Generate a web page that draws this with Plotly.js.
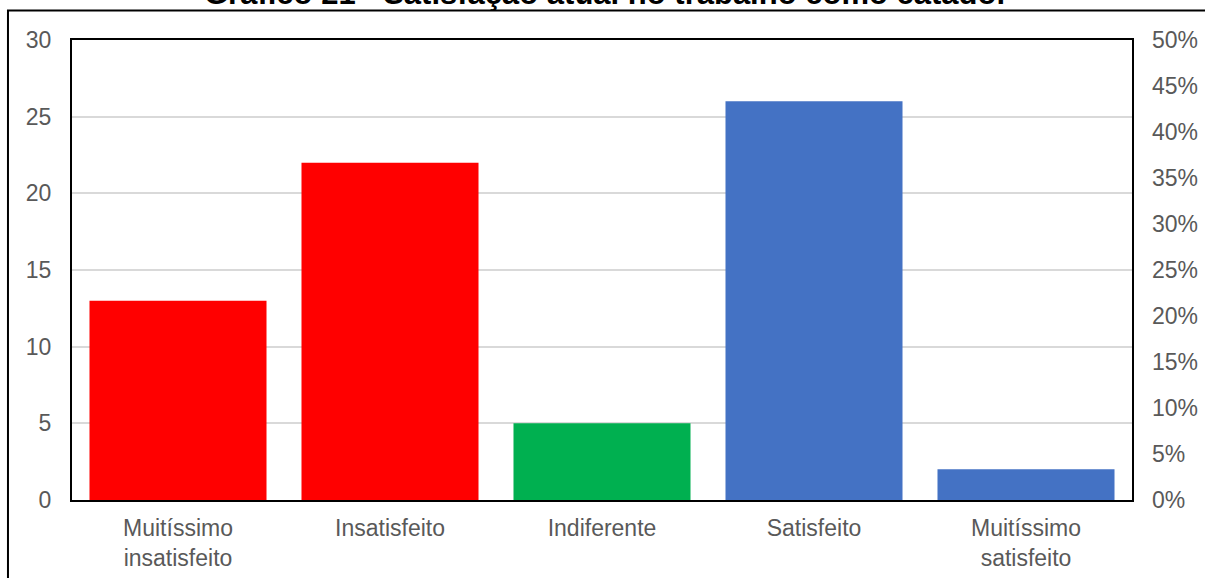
<!DOCTYPE html>
<html>
<head>
<meta charset="utf-8">
<script src="https://cdn.plot.ly/plotly-3.0.1.min.js"></script>
<style>html,body{margin:0;padding:0;background:#fff;}#chart{width:1205px;height:578px;}</style>
</head>
<body>
<div id="chart"></div>
<script>
const titleText = "Gráfico 21 - Satisfação atual no trabalho como catador";
const categories = ["Muitíssimo<br>insatisfeito", "Insatisfeito", "Indiferente", "Satisfeito", "Muitíssimo<br>satisfeito"];
const counts = [13, 22, 5, 26, 2];
const barColors = ["#FF0000", "#FF0000", "#00B050", "#4472C4", "#4472C4"];
const leftTicks = [0, 5, 10, 15, 20, 25, 30];
const rightTicks = [0, 0.05, 0.10, 0.15, 0.20, 0.25, 0.30, 0.35, 0.40, 0.45, 0.50];

const font = {family: "Liberation Sans, Arial, sans-serif", size: 23, color: "#595959"};

const data = [{
  type: "bar",
  x: categories,
  y: counts,
  marker: {color: barColors},
  hoverinfo: "x+y",
  showlegend: false
}, {
  type: "scatter",
  mode: "markers",
  x: [categories[0]],
  y: [null],
  yaxis: "y2",
  hoverinfo: "skip",
  showlegend: false,
  marker: {opacity: 0}
}];

const layout = {
  width: 1205, height: 578,
  margin: {l: 72, r: 73, t: 40, b: 78},
  paper_bgcolor: "#ffffff",
  plot_bgcolor: "#ffffff",
  font: font,
  bargap: 0.165,
  showlegend: false,
  xaxis: {
    type: "category",
    showline: true, linecolor: "#000000", linewidth: 2, mirror: true,
    showgrid: false, zeroline: false,
    ticks: "", tickfont: font, ticklabelstandoff: 6
  },
  yaxis: {
    range: [0, 30], tickvals: leftTicks, ticktext: leftTicks.map(String),
    showline: true, linecolor: "#000000", linewidth: 2, mirror: true,
    showgrid: true, gridcolor: "#d9d9d9", gridwidth: 2, zeroline: false,
    ticks: "", tickfont: font, ticklabelstandoff: 14
  },
  yaxis2: {
    overlaying: "y", side: "right", range: [0, 0.5],
    tickvals: rightTicks, ticktext: rightTicks.map(v => Math.round(v * 100) + "%"),
    showgrid: false, zeroline: false, showline: false,
    ticks: "", tickfont: font, ticklabelstandoff: 19
  },
  annotations: [{
    text: "<b>" + titleText + "</b>",
    xref: "paper", yref: "paper", x: 0.5042, y: 1.0587,
    xanchor: "center", yanchor: "bottom", showarrow: false,
    font: {family: "Liberation Sans, Arial, sans-serif", size: 31, color: "#000000"}
  }],
  shapes: [{
    type: "rect", xref: "paper", yref: "paper",
    x0: -0.0604, x1: 1.0736, y0: -0.1957, y1: 1.0641,
    line: {color: "#000000", width: 2}, fillcolor: "rgba(0,0,0,0)", layer: "below"
  }]
};

Plotly.newPlot("chart", data, layout, {displayModeBar: false, staticPlot: true});
</script>
</body>
</html>
